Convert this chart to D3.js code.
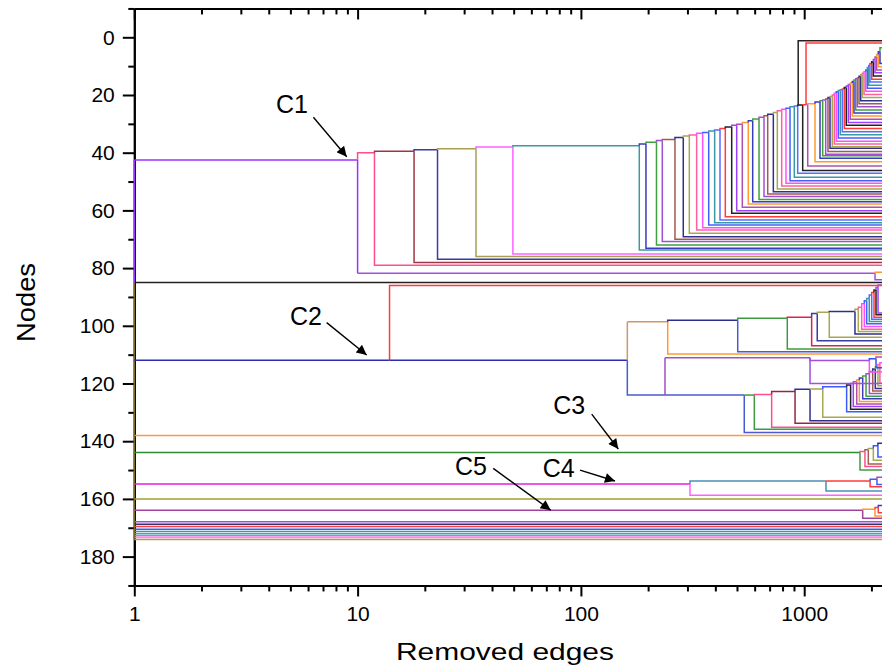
<!DOCTYPE html>
<html>
<head>
<meta charset="utf-8">
<script src="https://cdn.jsdelivr.net/npm/d3@7"></script>
<style>
	body { margin: 0; background: #fff; }
	svg { display: block; font-family: "Liberation Sans", Arial, sans-serif; }
</style>
</head>
<body>
<div id="chart"></div>
<script>
// ---- data (x = removed edges, y = node position) ----
var xMajor = [1, 10, 100, 1000];
var xMajorOff = [10000];
var xMinor = [2, 3, 4, 5, 6, 7, 8, 9, 20, 30, 40, 50, 60, 70, 80, 90, 200, 300, 400, 500, 600, 700, 800, 900, 2000, 3000, 4000, 5000, 6000, 7000, 8000, 9000];
var yMajor = [0, 20, 40, 60, 80, 100, 120, 140, 160, 180];
var yMinor = [-10, 10, 30, 50, 70, 90, 110, 130, 150, 170, 190];

// single nodes that stay alone from the first removal on
var singleY = [85, 138, 160, 167.9, 168.8, 169.6, 170.5, 171.3, 172.1, 172.8, 173.4, 174.1];
var rootY = [42.5, 85, 174.1];

// C1 staircase
var c1Start = [1, 42.5];
var c1X = [10, 11.9, 17.9, 22.8, 33.9, 49.6, 182.6, 195.6, 218, 231.5, 263.8, 287.4, 305.9, 329.9, 351.1, 373.6, 397.2, 419.7, 443.3, 473.5, 498.6, 528.2, 561.9, 588, 627.6, 660.7, 686.4, 727.4, 758, 793, 828.7, 864, 903, 935, 940, 984.6, 1019, 1037, 1118, 1177, 1210, 1248, 1278, 1305, 1336, 1364, 1392, 1421, 1451, 1481, 1512, 1543, 1576, 1608, 1642, 1671, 1701, 1729, 1760, 1791, 1821, 1853, 1886, 1917, 1945, 1970, 2006, 2040, 2076, 2112, 2147, 2185];
var c1Top = [40.0, 39.5, 39.0, 38.6, 38.0, 37.6, 37.0, 36.4, 35.8, 35.4, 34.7, 34.2, 33.9, 33.3, 33.0, 32.5, 32.1, 31.6, 31.1, 30.5, 30.1, 29.5, 28.9, 28.3, 27.7, 27.2, 26.7, 26.1, 25.5, 24.9, 24.6, 24.1, 23.8, 23.6, 23.5, 23.4, 23.3, 23.0, 22.4, 22.0, 21.7, 21.4, 20.9, 20.5, 20.0, 19.4, 18.9, 18.4, 18.2, 17.9, 17.4, 16.9, 16.4, 15.8, 15.3, 14.8, 14.4, 14.1, 13.5, 13.0, 12.5, 11.9, 11.3, 10.5, 9.8, 9.1, 8.5, 7.7, 6.8, 6.0, 5.0, 3.6];
var c1Bottom = [81.8, 79.0, 78.1, 76.9, 76.0, 75.1, 73.7, 73.1, 72.0, 70.8, 70.0, 69.1, 67.9, 66.8, 66.0, 65.1, 64.3, 63.3, 62.2, 61.0, 60.1, 58.9, 57.8, 57.0, 56.2, 55.2, 54.3, 53.5, 52.6, 51.5, 50.6, 49.7, 48.5, 47.1, 1.2, 46.2, 2.0, 44.6, 43.1, 41.9, 41.1, 40.5, 39.6, 38.5, 37.9, 37.0, 36.0, 34.9, 33.8, 32.7, 31.6, 30.5, 29.5, 28.4, 27.3, 26.2, 25.2, 24.1, 23.0, 22.0, 20.9, 19.8, 18.7, 17.7, 16.6, 15.5, 14.5, 13.4, 12.3, 11.3, 10.2, 9.1];

var c1bStart = [10, 81.8];
var c1bX = [2076];
var c1bTop = [81.4];
var c1bBottom = [84];

// C2 and its branches
var c2Start = [1, 111.9];
var c2X = [13.9, 161.4, 238, 539, 598, 715, 910, 1062, 1211, 1549, 1614, 1659, 1719, 1766, 1828, 1892, 1958, 2027, 2081, 2139, 2183];
var c2Top = [111.9, 124, 124, 124, 123.8, 122.8, 122, 121.9, 121.1, 120.5, 120, 119.4, 118.8, 118.1, 117.4, 116.6, 115.8, 115, 114.2, 113.4, 112.8];
var c2Bottom = [86, 98.6, 111.1, 137, 135.9, 135.2, 133.8, 132.9, 131.7, 129.8, 128.9, 128, 127.1, 126.2, 125.3, 124.4, 123.5, 122.6, 121.7, 120.8, 119.9];

var c2aStart = [161.4, 98.6];
var c2aX = [244.8, 503.8, 840, 1080, 1144, 1295, 1688, 1747, 1809, 1859, 1905, 1956, 2006, 2054, 2097, 2141];
var c2aTop = [98.1, 97.4, 97, 95.7, 95.3, 95, 94.3, 93.6, 92.4, 91.3, 90.5, 89.3, 88.5, 87.6, 86.7, 85.9];
var c2aBottom = [109.8, 109, 108, 106.9, 105.2, 104, 102.8, 102, 101.2, 100.2, 99.3, 98.5, 97.7, 97, 96.2, 95.6];

var c2bStart = [238, 111.1];
var c2bX = [1062, 1958, 2097];
var c2bTop = [112, 111.4, 110.8];
var c2bBottom = [120, 116, 114.5];

// C3, C4, C5
var c3Start = [1, 143.9];
var c3X = [1778, 1871, 1937, 2040, 2139];
var c3Top = [143.6, 143, 142.5, 141.6, 140.7];
var c3Bottom = [150, 148.8, 147.9, 146.6, 145.5];

var c4Start = [1, 154.8];
var c4X = [308, 1252, 1973, 2118];
var c4Top = [153.8, 153.8, 153.2, 152.5];
var c4Bottom = [158.7, 157.3, 155.8, 155];

var c5Start = [1, 163.9];
var c5X = [1828, 2076, 2147];
var c5Top = [163.6, 163, 162.3];
var c5Bottom = [166.7, 165.9, 164.8];

// annotations
var labelText = ["C1", "C2", "C3", "C4", "C5"];
var labelAt = [[4.31, 26.3], [4.98, 99.7], [75.1, 130.6], [67.4, 152.4], [27.3, 151.7]];
var arrowFrom = [[6.34, 27.7], [7.27, 98.9], [111.8, 130.6], [99.1, 150], [40.5, 149.4]];
var arrowTo = [[8.94, 41.4], [10.98, 110.1], [147.1, 142.7], [142.1, 153.8], [73.2, 163.9]];

var X_END = 10000;

// ---- styles ----
var palette = ["#3a9aa0", "#5a6cff", "#ff3b3b", "#222222", "#9b40ff", "#b04fb0", "#ff9a30", "#3b3bc0",
	"#3fa03f", "#a04fd0", "#a05a50", "#2f2f90", "#a8a850", "#ff5fa0", "#ff50ff", "#4060ff"];
var singleColor = ["#222222", "#ff9a40", "#a0a030", "#9b50e0", "#333366", "#ff3b3b", "#3b5bff", "#3a9aa0",
	"#40a0d0", "#ff50ff", "#ff90c0", "#b0a060"];
var rootColor = ["#9b30ff", "#7a6a20"];

var cascades = [
	{ start: c1Start, xs: c1X, tops: c1Top, bottoms: c1Bottom, offset: 0,
		lead: ["#9b30ff", "#ff4f90", "#a03545", "#3a3aa8", "#a8a050", "#ff60ff", "#3a9aa0"], segLead: ["#9b30ff"],
		fix: { 34: "#222222", 36: "#ff3b3b" } },
	{ start: c1bStart, xs: c1bX, tops: c1bTop, bottoms: c1bBottom, offset: 3,
		lead: ["#a050e0"], segLead: ["#a050e0", "#ff9a30"], fix: {} },
	{ start: c2Start, xs: c2X, tops: c2Top, bottoms: c2Bottom, offset: 9,
		lead: ["#ff3b3b", "#d09868", "#a050c0", "#4a5ad0", "#3f9a3f", "#ff4f90", "#902a40", "#303090", "#a8a850", "#3b5bff"],
		segLead: ["#2b2bb0", "#2b2bb0", "#4a5ad0", "#4a5ad0"], fix: {} },
	{ start: c2aStart, xs: c2aX, tops: c2aTop, bottoms: c2aBottom, offset: 5,
		lead: ["#ff9a30", "#4a5ad0", "#3f9a3f", "#e02050", "#3a3aa8", "#a8a850"],
		segLead: ["#d09868", "#2b2b90"], fix: {} },
	{ start: c2bStart, xs: c2bX, tops: c2bTop, bottoms: c2bBottom, offset: 2,
		lead: ["#a050e0", "#ff50ff", "#3050ff"], segLead: ["#a050c0", "#a050e0"], fix: {} },
	{ start: c3Start, xs: c3X, tops: c3Top, bottoms: c3Bottom, offset: 6,
		lead: ["#3f9a3f", "#ff4f90", "#a06050", "#a8a850", "#3b5bff"], segLead: ["#2e8b2e"], fix: {} },
	{ start: c4Start, xs: c4X, tops: c4Top, bottoms: c4Bottom, offset: 1,
		lead: ["#ff60ff", "#4a90b0", "#ff3b3b", "#3b5bff"], segLead: ["#e020e0", "#4a90b0"], fix: {} },
	{ start: c5Start, xs: c5X, tops: c5Top, bottoms: c5Bottom, offset: 4,
		lead: ["#a040a0", "#ff9a30", "#ff3b3b"], segLead: ["#a040a0"], fix: {} }
];

var svg = d3.select("#chart").append("svg")
	.attr("width", 882)
	.attr("height", 672);

var x = d3.scaleLog().domain([1, X_END]).range([134.3, 1027.5]);
var y = d3.scaleLinear().domain([-10, 190]).range([8.45, 585.45]);

// axes
function styleAxis(g) {
	g.selectAll(".domain").attr("stroke", "#000").attr("stroke-width", 2);
	g.selectAll(".tick line").attr("stroke", "#000").attr("stroke-width", 2);
	g.selectAll(".tick text").attr("fill", "#000").style("font-size", "21px")
		.style("font-family", "'Liberation Sans', Arial, sans-serif");
}

var bottomG = svg.append("g").attr("transform", "translate(0," + y(190) + ")");
bottomG.append("g").call(d3.axisBottom(x).tickValues(xMinor).tickSize(6).tickSizeOuter(0).tickFormat(""));
bottomG.append("g").call(d3.axisBottom(x).tickValues(xMajorOff).tickSize(11).tickSizeOuter(0).tickFormat(""));
bottomG.append("g").call(d3.axisBottom(x).tickValues(xMajor).tickSize(11).tickSizeOuter(0).tickPadding(10).tickFormat(d3.format("d")));
styleAxis(bottomG);

var topG = svg.append("g").attr("transform", "translate(0," + y(-10) + ")");
topG.append("g").call(d3.axisTop(x).tickValues(xMinor).tickSize(-6).tickSizeOuter(0).tickFormat(""));
topG.append("g").call(d3.axisTop(x).tickValues(xMajor.concat(xMajorOff)).tickSize(-11).tickSizeOuter(0).tickFormat(""));
styleAxis(topG);

var leftG = svg.append("g").attr("transform", "translate(" + x(1) + ",0)");
leftG.append("g").call(d3.axisLeft(y).tickValues(yMinor).tickSize(6).tickSizeOuter(0).tickFormat(""));
leftG.append("g").call(d3.axisLeft(y).tickValues(yMajor).tickSize(11.5).tickSizeOuter(0).tickPadding(8));
styleAxis(leftG);

// dendrogram
var line = d3.line()
	.x(function(d) { return x(d[0]); })
	.y(function(d) { return y(d[1]); })
	.curve(d3.curveStepAfter);

var paths = [];

singleY.forEach(function(v, i) {
	paths.push({ pts: [[1, v], [X_END, v]], color: singleColor[i] });
});
paths.push({ pts: [[1, rootY[1]], [1, rootY[2]]], color: rootColor[1] });
paths.push({ pts: [[1, rootY[0]], [1, rootY[1]]], color: rootColor[0] });

function tailEnd(xv, yv) {
	for (var k = 0; k < cascades.length; k++) {
		if (cascades[k].start[0] === xv && cascades[k].start[1] === yv) return xv;
	}
	return X_END;
}

cascades.forEach(function(c) {
	var n = c.xs.length;
	var px = c.start[0], pTop = c.start[1], ppTop = c.start[1];
	for (var i = 0; i < n; i++) {
		var col = c.fix[i] || c.lead[i] || palette[(c.offset + i) % palette.length];
		var segCol = c.segLead[i] || col;
		paths.push({ pts: [[px, ppTop], [px, pTop], [c.xs[i], pTop]], color: segCol });
		paths.push({ pts: [[c.xs[i], pTop], [c.xs[i], c.bottoms[i]], [tailEnd(c.xs[i], c.bottoms[i]), c.bottoms[i]]], color: col });
		ppTop = pTop;
		px = c.xs[i];
		pTop = c.tops[i];
	}
	var lastCol = c.segLead[n] || palette[(c.offset + n) % palette.length];
	paths.push({ pts: [[px, ppTop], [px, pTop], [X_END, pTop]], color: lastCol });
});

svg.append("g")
	.selectAll("path")
	.data(paths)
	.enter().append("path")
	.attr("d", function(d) { return line(d.pts); })
	.attr("fill", "none")
	.attr("stroke", function(d) { return d.color; })
	.attr("stroke-width", 1.5);

// annotations
svg.append("defs").append("marker")
	.attr("id", "ah")
	.attr("viewBox", "0 0 10 10")
	.attr("refX", 10).attr("refY", 5)
	.attr("markerWidth", 16).attr("markerHeight", 10)
	.attr("markerUnits", "userSpaceOnUse")
	.attr("orient", "auto")
	.append("path").attr("d", "M0,0L10,5L0,10z").attr("fill", "#000");

svg.append("g").selectAll("line")
	.data(arrowFrom)
	.enter().append("line")
	.attr("x1", function(d) { return x(d[0]); })
	.attr("y1", function(d) { return y(d[1]); })
	.attr("x2", function(d, i) { return x(arrowTo[i][0]); })
	.attr("y2", function(d, i) { return y(arrowTo[i][1]); })
	.attr("stroke", "#000")
	.attr("stroke-width", 1.4)
	.attr("marker-end", "url(#ah)");

svg.append("g").selectAll("text")
	.data(labelText)
	.enter().append("text")
	.attr("x", function(d, i) { return x(labelAt[i][0]); })
	.attr("y", function(d, i) { return y(labelAt[i][1]); })
	.style("font-size", "25px")
	.attr("fill", "#000")
	.text(function(d) { return d; });

// axis titles
svg.append("text")
	.attr("x", 505)
	.attr("y", 660)
	.attr("text-anchor", "middle")
	.attr("textLength", 218)
	.attr("lengthAdjust", "spacingAndGlyphs")
	.style("font-size", "24px")
	.text("Removed edges");

svg.append("text")
	.attr("transform", "translate(35,302.5) rotate(-90)")
	.attr("text-anchor", "middle")
	.attr("textLength", 79)
	.attr("lengthAdjust", "spacingAndGlyphs")
	.style("font-size", "25px")
	.text("Nodes");
</script>
</body>
</html>
